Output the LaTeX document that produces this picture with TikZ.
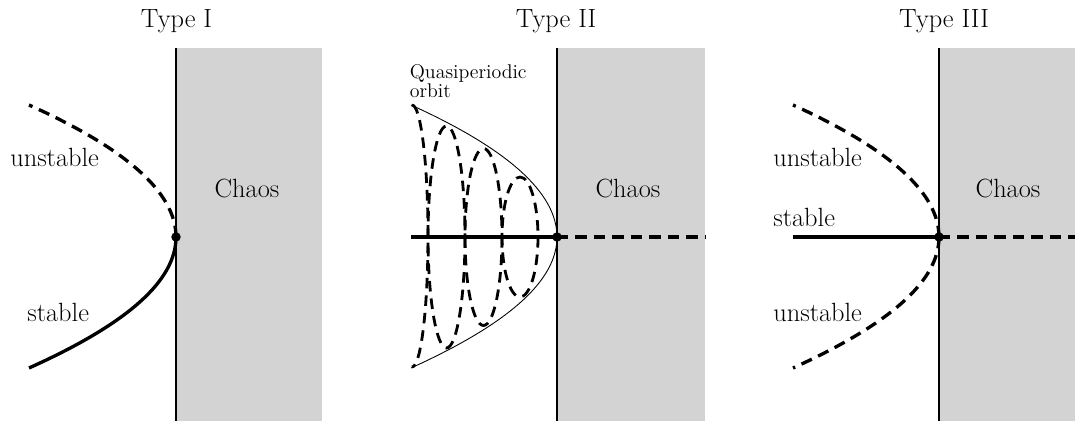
\documentclass[tikz,border=0pt]{standalone}
\usepackage{tikz}
\usetikzlibrary{positioning, calc}
\definecolor{chaosgray}{RGB}{211,211,211}
\tikzset{
  % Chaotic regions
  chaosregion/.style={fill=chaosgray, draw=none},
  borderline/.style={line width=0.9pt, draw=black},
  % Branches
  stablebranch/.style={line width=1.9pt, draw=black},
  unstablebranch/.style={line width=1.9pt, draw=black, dash pattern=on 6.5pt off 4pt},
  orbitline/.style={line width=1.6pt, draw=black, dash pattern=on 6pt off 4pt},
  envelope/.style={line width=0.5pt, draw=black},
  bifpoint/.style={circle, fill=black, inner sep=0pt, minimum size=5.4pt},
  % Labels
  paneltitle/.style={font=\fontsize{15}{18}\selectfont, anchor=base},
  branchlabel/.style={font=\fontsize{15}{18}\selectfont, anchor=base west, inner sep=0pt},
  orbitlabel/.style={font=\fontsize{11.3}{10.8}\selectfont, align=left, anchor=north west, inner sep=0pt},
}
\begin{document}
\begin{tikzpicture}[x=0.02cm, y=-0.02cm]
  \useasboundingbox (0,0) rectangle (1075,421);

  % Type I
  \fill[chaosregion] (176,48) rectangle (322,421);
  \draw[borderline] (176,48) -- (176,421);
  \coordinate (bifI) at (176,237);
  \coordinate (upI) at (29,105);
  \coordinate (lowI) at (29,368);
  \draw[unstablebranch] (bifI) .. controls +(0,-44) and +(98,44) .. (upI);
  \draw[stablebranch] (bifI) .. controls +(0,44) and +(98,-44) .. (lowI);
  \node[bifpoint] (dotI) at (bifI) {};
  \node[paneltitle] (titleI) at (176.5,28) {Type I};
  \node[branchlabel] (unstableI) at (10,167) {unstable};
  \node[branchlabel] (stableI) at (27,322) {stable};
  \node[paneltitle] (chaosI) at (247,198) {Chaos};

  % Type II
  \fill[chaosregion] (557,48) rectangle (705,421);
  \draw[borderline] (557,48) -- (557,421);
  \coordinate (bifII) at (557,237);
  \coordinate (leftII) at (411,237);
  \coordinate (rightII) at (705,237);
  \coordinate (upII) at (411,105);
  \coordinate (lowII) at (411,368);
  \coordinate (startII) at (412,105);
  \coordinate (loopA) at (446.5,237);
  \coordinate (loopB) at (483.5,237);
  \coordinate (loopC) at (520,237);
  \draw[envelope] (upII) .. controls +(97,44) and +(0,-44) .. (bifII)
    .. controls +(0,44) and +(97,-44) .. (lowII);
  \draw[orbitline] (startII) arc[start angle=-90, end angle=90, x radius=16, y radius=131];
  \draw[orbitline] (loopA) ellipse[x radius=18.5, y radius=111];
  \draw[orbitline] (loopB) ellipse[x radius=18.5, y radius=88.5];
  \draw[orbitline] (loopC) ellipse[x radius=18, y radius=60];
  \draw[stablebranch] (leftII) -- (bifII);
  \draw[unstablebranch] (bifII) -- (rightII);
  \node[bifpoint] (dotII) at (bifII) {};
  \node[paneltitle] (titleII) at (556,28) {Type II};
  \node[orbitlabel] (orbitII) at (409.5,64) {Quasiperiodic\\orbit};
  \node[paneltitle] (chaosII) at (628,198) {Chaos};

  % Type III
  \fill[chaosregion] (939,48) rectangle (1075,421);
  \draw[borderline] (939,48) -- (939,421);
  \coordinate (bifIII) at (939,237);
  \coordinate (leftIII) at (793,237);
  \coordinate (rightIII) at (1075,237);
  \coordinate (upIII) at (793,105);
  \coordinate (lowIII) at (793,368);
  \draw[unstablebranch] (bifIII) .. controls +(0,-44) and +(97,44) .. (upIII);
  \draw[unstablebranch] (bifIII) .. controls +(0,44) and +(97,-44) .. (lowIII);
  \draw[stablebranch] (leftIII) -- (bifIII);
  \draw[unstablebranch] (bifIII) -- (rightIII);
  \node[bifpoint] (dotIII) at (bifIII) {};
  \node[paneltitle] (titleIII) at (944,28) {Type III};
  \node[branchlabel] (unstableIIIa) at (773,167) {unstable};
  \node[branchlabel] (stableIII) at (773,227) {stable};
  \node[branchlabel] (unstableIIIb) at (773,322) {unstable};
  \node[paneltitle] (chaosIII) at (1008,198) {Chaos};

\end{tikzpicture}
\end{document}
